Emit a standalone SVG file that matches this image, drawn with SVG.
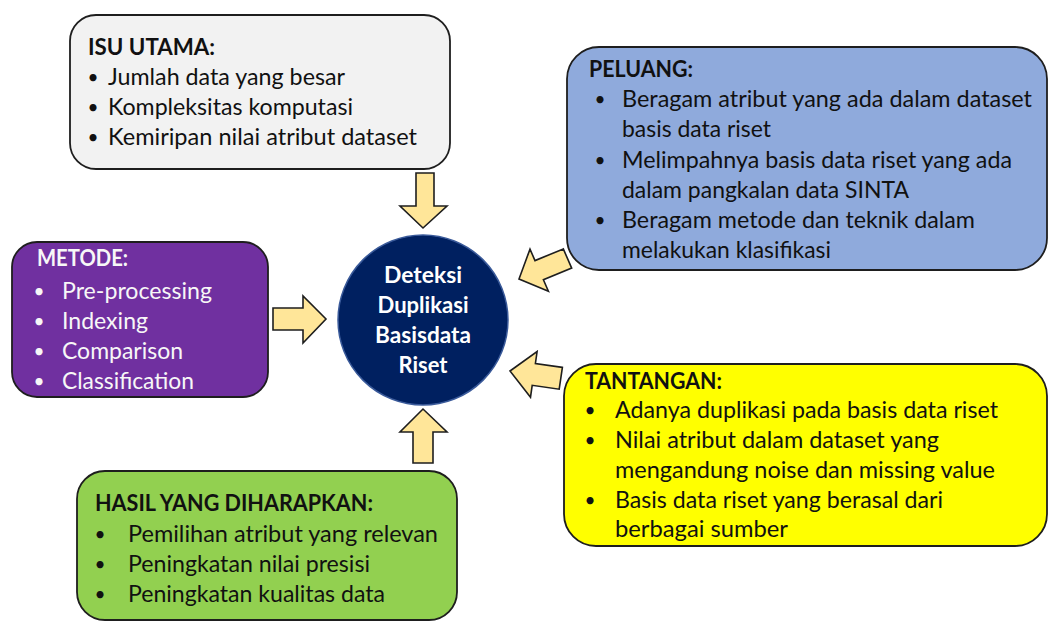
<svg xmlns="http://www.w3.org/2000/svg" width="1049" height="621" viewBox="0 0 1049 621">
<style>
.box{stroke:#1e1e1e;stroke-width:1.8}
.t{font-family:Lato,"Open Sans","Liberation Sans",sans-serif;font-size:23px;fill:#111}
.h{font-weight:bold}
.b{text-anchor:middle;font-size:19px}
.w{fill:#f7f7f7}
.c{font-family:Lato,"Open Sans","Liberation Sans",sans-serif;font-size:23px;font-weight:bold;fill:#fff;text-anchor:middle}
.arr{fill:#ffe699;stroke:#1e1e1e;stroke-width:1.6;stroke-linejoin:miter}
</style>
<rect width="1049" height="621" fill="#fff"/>

<g id="isu-utama">
<rect class="box" x="70" y="15" width="380" height="154" rx="26" fill="#f2f2f2"/>
<text class="t h" x="88" y="55" textLength="127" lengthAdjust="spacingAndGlyphs">ISU UTAMA:</text>
<text class="t b" x="93" y="84">•</text>
<text class="t b" x="93" y="114">•</text>
<text class="t b" x="93" y="144">•</text>
<text class="t" x="108" y="85" textLength="237" lengthAdjust="spacingAndGlyphs">Jumlah data yang besar</text>
<text class="t" x="108" y="115" textLength="245" lengthAdjust="spacingAndGlyphs">Kompleksitas komputasi</text>
<text class="t" x="108" y="145" textLength="309" lengthAdjust="spacingAndGlyphs">Kemiripan nilai atribut dataset</text>
</g>

<g id="peluang">
<rect class="box" x="567" y="47" width="480" height="223" rx="32" fill="#8faadc"/>
<text class="t h" x="589" y="77" textLength="104" lengthAdjust="spacingAndGlyphs">PELUANG:</text>
<text class="t b" x="600" y="106">•</text>
<text class="t b" x="600" y="167">•</text>
<text class="t b" x="600" y="227">•</text>
<text class="t" x="622" y="107" textLength="410" lengthAdjust="spacingAndGlyphs">Beragam atribut yang ada dalam dataset</text>
<text class="t" x="622" y="137" textLength="149" lengthAdjust="spacingAndGlyphs">basis data riset</text>
<text class="t" x="622" y="168" textLength="390" lengthAdjust="spacingAndGlyphs">Melimpahnya basis data riset yang ada</text>
<text class="t" x="622" y="198" textLength="287" lengthAdjust="spacingAndGlyphs">dalam pangkalan data SINTA</text>
<text class="t" x="622" y="228" textLength="353" lengthAdjust="spacingAndGlyphs">Beragam metode dan teknik dalam</text>
<text class="t" x="622" y="258" textLength="209" lengthAdjust="spacingAndGlyphs">melakukan klasifikasi</text>
</g>

<g id="metode">
<rect class="box" x="12" y="242" width="256" height="155" rx="25" fill="#7030a0"/>
<text class="t h w" x="37" y="266" textLength="91" lengthAdjust="spacingAndGlyphs">METODE:</text>
<text class="t b w" x="39" y="298">•</text>
<text class="t b w" x="39" y="328">•</text>
<text class="t b w" x="39" y="358">•</text>
<text class="t b w" x="39" y="388">•</text>
<text class="t w" x="62" y="299" textLength="150" lengthAdjust="spacingAndGlyphs">Pre-processing</text>
<text class="t w" x="62" y="329" textLength="86" lengthAdjust="spacingAndGlyphs">Indexing</text>
<text class="t w" x="62" y="359" textLength="121" lengthAdjust="spacingAndGlyphs">Comparison</text>
<text class="t w" x="62" y="389" textLength="132" lengthAdjust="spacingAndGlyphs">Classification</text>
</g>

<g id="tantangan">
<rect class="box" x="564" y="364" width="483" height="182" rx="32" fill="#ffff00"/>
<text class="t h" x="585" y="389" textLength="137" lengthAdjust="spacingAndGlyphs">TANTANGAN:</text>
<text class="t b" x="590" y="417">•</text>
<text class="t b" x="590" y="447">•</text>
<text class="t b" x="590" y="507">•</text>
<text class="t" x="615" y="418" textLength="383" lengthAdjust="spacingAndGlyphs">Adanya duplikasi pada basis data riset</text>
<text class="t" x="615" y="448" textLength="324" lengthAdjust="spacingAndGlyphs">Nilai atribut dalam dataset yang</text>
<text class="t" x="615" y="478" textLength="380" lengthAdjust="spacingAndGlyphs">mengandung noise dan missing value</text>
<text class="t" x="615" y="508" textLength="328" lengthAdjust="spacingAndGlyphs">Basis data riset yang berasal dari</text>
<text class="t" x="615" y="537" textLength="173" lengthAdjust="spacingAndGlyphs">berbagai sumber</text>
</g>

<g id="hasil">
<rect class="box" x="77" y="471" width="380" height="149" rx="28" fill="#92d050"/>
<text class="t h" x="95" y="511" textLength="278" lengthAdjust="spacingAndGlyphs">HASIL YANG DIHARAPKAN:</text>
<text class="t b" x="100" y="541">•</text>
<text class="t b" x="100" y="571">•</text>
<text class="t b" x="100" y="601">•</text>
<text class="t" x="128" y="542" textLength="310" lengthAdjust="spacingAndGlyphs">Pemilihan atribut yang relevan</text>
<text class="t" x="128" y="572" textLength="242" lengthAdjust="spacingAndGlyphs">Peningkatan nilai presisi</text>
<text class="t" x="128" y="602" textLength="257" lengthAdjust="spacingAndGlyphs">Peningkatan kualitas data</text>
</g>

<g id="connectors">
<polygon class="arr" points="416,173 434,173 434,206 447,206 423,228 400,206 416,206"/>
<polygon class="arr" points="273,308 303,308 303,296 326,319 303,343 303,330 273,330"/>
<polygon class="arr" points="413,463 433,463 433,432 447,432 423,409 400,432 413,432"/>
<polygon class="arr" points="563.3,248.9 535,260.6 530,249.1 519,279 548.4,291.3 543.4,279.8 571.7,268.1"/>
<polygon class="arr" points="562.4,367.4 535.4,363.5 537.1,351.6 510,371 530.5,397.2 532.2,385.3 559.2,389.2"/>
</g>

<g id="deteksi">
<circle cx="423" cy="320" r="85" fill="#002060" stroke="#3a5a9a" stroke-width="1.5"/>
<text class="c" x="423" y="283" textLength="78" lengthAdjust="spacingAndGlyphs">Deteksi</text>
<text class="c" x="423" y="313" textLength="91" lengthAdjust="spacingAndGlyphs">Duplikasi</text>
<text class="c" x="423" y="343" textLength="96" lengthAdjust="spacingAndGlyphs">Basisdata</text>
<text class="c" x="423" y="373" textLength="49" lengthAdjust="spacingAndGlyphs">Riset</text>
</g>
</svg>
